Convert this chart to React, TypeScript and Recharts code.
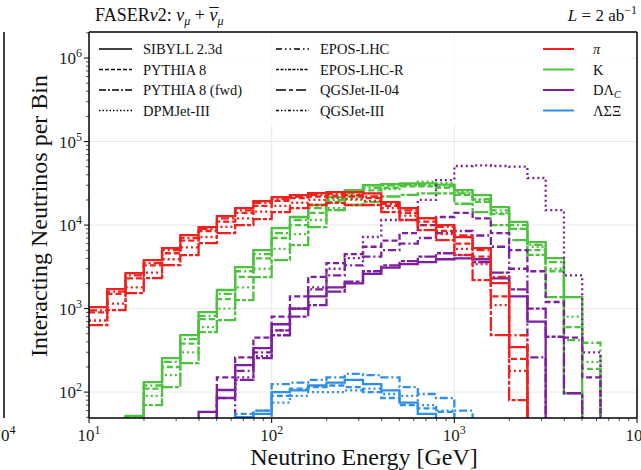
import { ComposedChart, Line, XAxis, YAxis, CartesianGrid } from "recharts";

// bin edges [GeV], 10 bins per decade
const edges = [
  10, 12.59, 15.85, 19.95, 25.12, 31.62, 39.81, 50.12, 63.1, 79.43, 100, 125.9, 158.5, 199.5, 251.2, 316.2,
  398.1, 501.2, 631, 794.3, 1000, 1259, 1585, 1995, 2512, 3162, 3981, 5012, 6310, 7943, 10000,
];

// counts per bin (0 = nothing in that bin)
const piSibyll = [1040, 1710, 2660, 3810, 5310, 7590, 9460, 12800, 16000, 19400, 21600, 22900, 24200, 24800, 24800, 24000, 18800, 16000, 12100, 10000, 7180, 5310, 2020, 346, 0, 0, 0, 0, 0, 0];
const piQgs2 = [634, 959, 1530, 2320, 3320, 4370, 6090, 8010, 10000, 11800, 14300, 16000, 17400, 18400, 17400, 17400, 14300, 11500, 8710, 6610, 4370, 2190, 482, 80, 0, 0, 0, 0, 0, 0];
const piPythia = [900, 1500, 2300, 3300, 4600, 6500, 8500, 11000, 14000, 17000, 19500, 21000, 22000, 22500, 22000, 21000, 17000, 14000, 11000, 8500, 6000, 4200, 1400, 250, 0, 0, 0, 0, 0, 0];
const piPythiaFwd = [950, 1600, 2500, 3500, 5000, 7000, 9000, 12000, 15000, 18500, 20500, 22000, 23000, 23500, 23000, 22000, 18000, 15000, 12000, 9500, 7500, 5000, 2400, 480, 0, 0, 0, 0, 0, 0];
const piDpm = [720, 1150, 1800, 2700, 3900, 5400, 7200, 9500, 12000, 14500, 17000, 18500, 20000, 21000, 20500, 19500, 16000, 13000, 10000, 7800, 5200, 3400, 1100, 180, 0, 0, 0, 0, 0, 0];

const kSibyll = [0, 0, 52, 132, 255, 482, 908, 1670, 3140, 5020, 9200, 12500, 17400, 21600, 26200, 30000, 31000, 31500, 31500, 30500, 26200, 22900, 16400, 10900, 6250, 4030, 1370, 0, 0, 0];
const kQgs2 = [0, 0, 40, 70, 115, 222, 524, 728, 1260, 2380, 3810, 5750, 9460, 15100, 17400, 19000, 22000, 23000, 24000, 24000, 18000, 14300, 10000, 6600, 4400, 1370, 97, 0, 0, 0];
const kPythia = [0, 0, 45, 110, 200, 380, 750, 1300, 2400, 4000, 7000, 10000, 14000, 19000, 22000, 26000, 28000, 29000, 29000, 28000, 23000, 19000, 13500, 9000, 5000, 2800, 600, 190, 0, 0];
const kPythiaFwd = [0, 0, 50, 120, 230, 430, 820, 1500, 2800, 4500, 8000, 11500, 16000, 20000, 24000, 28000, 30000, 30500, 30000, 29000, 24000, 20500, 15000, 10000, 5800, 3600, 420, 390, 0, 0];
const kDpm = [0, 0, 0, 90, 160, 300, 600, 1000, 1800, 3000, 5200, 7800, 11500, 16000, 20000, 24000, 27000, 30000, 33000, 32000, 25000, 20000, 14000, 9000, 5500, 3000, 800, 230, 0, 0];

const dSibyll = [0, 0, 0, 0, 0, 0, 58, 106, 210, 336, 650, 1000, 1400, 1800, 2000, 2600, 3100, 3400, 3600, 3900, 4000, 3900, 2300, 1400, 700, 0, 0, 0, 0, 0];
const dQgs2 = [0, 0, 0, 0, 0, 0, 45, 85, 140, 255, 480, 800, 1100, 1600, 2100, 2800, 3300, 3700, 4200, 4600, 4400, 3600, 2700, 1700, 1000, 460, 97, 0, 0, 0];
const dPythia = [0, 0, 0, 0, 0, 0, 0, 150, 260, 450, 800, 1400, 2400, 3500, 4500, 5500, 6500, 8000, 10000, 12500, 14000, 12000, 8000, 5000, 2800, 1200, 450, 150, 0, 0];
const dPythiaFwd = [0, 0, 0, 0, 0, 0, 0, 0, 180, 300, 550, 1000, 1700, 2500, 3300, 4200, 5000, 6000, 7000, 8000, 8500, 7500, 5500, 3000, 260, 0, 0, 0, 0, 0];
const dDpm = [0, 0, 0, 0, 0, 0, 0, 85, 150, 270, 550, 1000, 1800, 3000, 4030, 7200, 11500, 11500, 20000, 34600, 51000, 52000, 51000, 50000, 36600, 15100, 2500, 300, 0, 0];

const hSibyll = [0, 0, 0, 0, 0, 0, 0, 0, 50, 55, 100, 105, 120, 130, 140, 125, 105, 75, 55, 0, 0, 0, 0, 0, 0, 0, 0, 0, 0, 0];
const hPythiaFwd = [0, 0, 0, 0, 0, 0, 0, 0, 0, 60, 125, 130, 140, 150, 165, 160, 150, 115, 95, 85, 60, 0, 0, 0, 0, 0, 0, 0, 0, 0];
const hPythia = [0, 0, 0, 0, 0, 0, 0, 0, 55, 60, 90, 110, 115, 120, 115, 100, 85, 70, 64, 58, 0, 0, 0, 0, 0, 0, 0, 0, 0, 0];
const hDpm = [0, 0, 0, 0, 0, 0, 0, 0, 0, 0, 75, 90, 100, 100, 105, 110, 95, 90, 70, 60, 0, 0, 0, 0, 0, 0, 0, 0, 0, 0];

const xTicks = [
  10, 20, 30, 40, 50, 60, 70, 80, 90, 100, 200, 300, 400, 500, 600, 700, 800, 900, 1000, 2000, 3000, 4000, 5000,
  6000, 7000, 8000, 9000, 10000,
];
const yTicks = [
  50, 60, 70, 80, 90, 100, 200, 300, 400, 500, 600, 700, 800, 900, 1e3, 2e3, 3e3, 4e3, 5e3, 6e3, 7e3, 8e3, 9e3,
  1e4, 2e4, 3e4, 4e4, 5e4, 6e4, 7e4, 8e4, 9e4, 1e5, 2e5, 3e5, 4e5, 5e5, 6e5, 7e5, 8e5, 9e5, 1e6, 2e6,
];

const RED = "#f0201c";
const GREEN = "#4cc23e";
const PURPLE = "#7d1f9e";
const BLUE = "#2f8fe6";

const DASH = {
  solid: undefined,
  pythia: "6 3",
  fwd: "8 3 2 3",
  dpm: "2 3",
  qgs2: "14 2 4 2",
};

const series = [
  { key: "kQgs2", data: kQgs2, color: GREEN, dash: DASH.qgs2 },
  { key: "kDpm", data: kDpm, color: GREEN, dash: DASH.dpm },
  { key: "kPythia", data: kPythia, color: GREEN, dash: DASH.pythia },
  { key: "kPythiaFwd", data: kPythiaFwd, color: GREEN, dash: DASH.fwd },
  { key: "kSibyll", data: kSibyll, color: GREEN, dash: DASH.solid },
  { key: "dQgs2", data: dQgs2, color: PURPLE, dash: DASH.qgs2 },
  { key: "dDpm", data: dDpm, color: PURPLE, dash: DASH.dpm },
  { key: "dPythia", data: dPythia, color: PURPLE, dash: DASH.pythia },
  { key: "dPythiaFwd", data: dPythiaFwd, color: PURPLE, dash: DASH.fwd },
  { key: "dSibyll", data: dSibyll, color: PURPLE, dash: DASH.solid },
  { key: "hDpm", data: hDpm, color: BLUE, dash: DASH.dpm },
  { key: "hPythia", data: hPythia, color: BLUE, dash: DASH.pythia },
  { key: "hPythiaFwd", data: hPythiaFwd, color: BLUE, dash: DASH.fwd },
  { key: "hSibyll", data: hSibyll, color: BLUE, dash: DASH.solid },
  { key: "piQgs2", data: piQgs2, color: RED, dash: DASH.qgs2 },
  { key: "piDpm", data: piDpm, color: RED, dash: DASH.dpm },
  { key: "piPythia", data: piPythia, color: RED, dash: DASH.pythia },
  { key: "piPythiaFwd", data: piPythiaFwd, color: RED, dash: DASH.fwd },
  { key: "piSibyll", data: piSibyll, color: RED, dash: DASH.solid },
];

// empty bins sit far below the axis so the steps drop out of the frame
const table = edges.map((e, i) => {
  const row: any = { e };
  series.forEach((s) => {
    const v = i < s.data.length ? s.data[i] : 0;
    row[s.key] = v > 0 ? v : 1;
  });
  return row;
});

const SERIF = "'Liberation Serif', 'DejaVu Serif', serif";

const isMajor = (v: number) => Math.abs(Math.log10(v) - Math.round(Math.log10(v))) < 1e-6;

const XTick = ({ x, y, payload }: any) => {
  const v = payload.value;
  const major = isMajor(v);
  return (
    <g>
      <line x1={x} x2={x} y1={y} y2={y + (major ? 5 : 3)} stroke="#000" strokeWidth={major ? 1 : 0.7} />
      {major && (
        <text x={x} y={y + 23} textAnchor="middle" fontFamily={SERIF} fontSize={17} fill="#222">
          10
          <tspan dy={-7} fontSize={12}>
            {Math.round(Math.log10(v))}
          </tspan>
        </text>
      )}
    </g>
  );
};

const YTick = ({ x, y, payload }: any) => {
  const v = payload.value;
  const major = isMajor(v);
  return (
    <g>
      <line x1={x} x2={x - (major ? 5 : 3)} y1={y} y2={y} stroke="#000" strokeWidth={major ? 1 : 0.7} />
      {major && (
        <text x={x - 7} y={y + 6} textAnchor="end" fontFamily={SERIF} fontSize={17} fill="#222">
          10
          <tspan dy={-7} fontSize={12}>
            {Math.round(Math.log10(v))}
          </tspan>
        </text>
      )}
    </g>
  );
};

const genLegend = [
  { name: "SIBYLL 2.3d", dash: undefined },
  { name: "PYTHIA 8", dash: "4 2" },
  { name: "PYTHIA 8 (fwd)", dash: "7 2 2 2" },
  { name: "DPMJet-III", dash: "1.5 2" },
  { name: "EPOS-LHC", dash: "6 3 1.5 3 1.5 3" },
  { name: "EPOS-LHC-R", dash: "3 1.5 3 1.5 1.5 1.5" },
  { name: "QGSJet-II-04", dash: "10 3 4 3" },
  { name: "QGSJet-III", dash: "3 2 1.5 2 1.5 2" },
];
const rowsY = [49, 69.5, 90, 110.5];

function Overlay() {
  return (
    <svg width={641} height={470} style={{ position: "absolute", left: 0, top: 0, pointerEvents: "none" }}>
      <g fontFamily={SERIF} fill="#111">
        {/* left neighbour panel edge */}
        <line x1={4} x2={4} y1={32} y2={418} stroke="#000" strokeWidth={1.5} />
        <text x={4} y={441} textAnchor="middle" fontSize={17}>
          10<tspan dy={-7} fontSize={12}>4</tspan>
        </text>

        <text x={95} y={21} fontSize={18}>
          FASER<tspan fontStyle="italic">ν</tspan>2:{" "}
          <tspan fontStyle="italic">ν</tspan>
          <tspan fontStyle="italic" fontSize={12} dy={4}>μ</tspan>
          <tspan dy={-4}> + </tspan>
          <tspan fontStyle="italic">ν</tspan>
          <tspan dx={-8}>¯</tspan>
          <tspan fontStyle="italic" fontSize={12} dy={4} dx={-1}>μ</tspan>
        </text>
        <text x={637} y={21} fontSize={17} textAnchor="end">
          <tspan fontStyle="italic">L</tspan> = 2 ab<tspan dy={-7} fontSize={12}>−1</tspan>
        </text>

        <text x={364} y={465} fontSize={24} textAnchor="middle">
          Neutrino Energy [GeV]
        </text>
        <text x={0} y={0} fontSize={24} textAnchor="middle" transform="translate(47 216) rotate(-90)">
          Interacting Neutrinos per Bin
        </text>

        <rect x={94} y={36} width={538} height={90} fill="#fff" fillOpacity={0.75} />
        {genLegend.map((g, i) => {
          const col = i < 4 ? 0 : 1;
          const y = rowsY[i % 4];
          const x0 = col === 0 ? 99 : 276;
          return (
            <g key={g.name}>
              <line x1={x0} x2={x0 + 33} y1={y} y2={y} stroke="#000" strokeWidth={1.3} strokeDasharray={g.dash} />
              <text x={x0 + 44} y={y + 5} fontSize={14.5}>
                {g.name}
              </text>
            </g>
          );
        })}
        {[RED, GREEN, PURPLE, BLUE].map((c, i) => (
          <line key={c} x1={543} x2={574} y1={rowsY[i]} y2={rowsY[i]} stroke={c} strokeWidth={2} />
        ))}
        <text x={593} y={rowsY[0] + 5} fontSize={14.5} fontStyle="italic">π</text>
        <text x={593} y={rowsY[1] + 5} fontSize={14.5}>K</text>
        <text x={593} y={rowsY[2] + 5} fontSize={14.5}>
          DΛ<tspan fontSize={10} dy={3} fontStyle="italic">C</tspan>
        </text>
        <text x={593} y={rowsY[3] + 5} fontSize={14.5}>ΛΣΞ</text>

        <line x1={89} x2={637} y1={32} y2={32} stroke="#000" strokeWidth={1.5} />
        <line x1={637} x2={637} y1={32} y2={418} stroke="#000" strokeWidth={1.5} />
      </g>
    </svg>
  );
}

export default function App() {
  return (
    <div style={{ position: "absolute", left: 0, top: 0, width: 641, height: 470, background: "#fff" }}>
      <ComposedChart width={641} height={470} data={table} margin={{ top: 32, right: 4, left: 29, bottom: 22 }}>
        <CartesianGrid
          stroke="#e2e2e2"
          strokeWidth={0.8}
          horizontalValues={[100, 1000, 10000, 100000, 1000000]}
          verticalValues={[100, 1000]}
        />
        <XAxis
          dataKey="e"
          type="number"
          scale="log"
          domain={[10, 10000]}
          allowDataOverflow
          ticks={xTicks}
          interval={0}
          tick={<XTick />}
          tickLine={false}
          tickSize={0}
          tickMargin={0}
          height={30}
          axisLine={{ stroke: "#000", strokeWidth: 1.5 }}
        />
        <YAxis
          type="number"
          scale="log"
          domain={[49, 2.05e6]}
          allowDataOverflow
          ticks={yTicks}
          interval={0}
          tick={<YTick />}
          tickLine={false}
          tickSize={0}
          tickMargin={0}
          width={60}
          axisLine={{ stroke: "#000", strokeWidth: 1.5 }}
        />
        {series.map((s) => (
          <Line
            key={s.key}
            dataKey={s.key}
            type="stepAfter"
            stroke={s.color}
            strokeWidth={2.3}
            strokeDasharray={s.dash}
            dot={false}
            activeDot={false}
            isAnimationActive={false}
          />
        ))}
      </ComposedChart>
      <Overlay />
    </div>
  );
}
